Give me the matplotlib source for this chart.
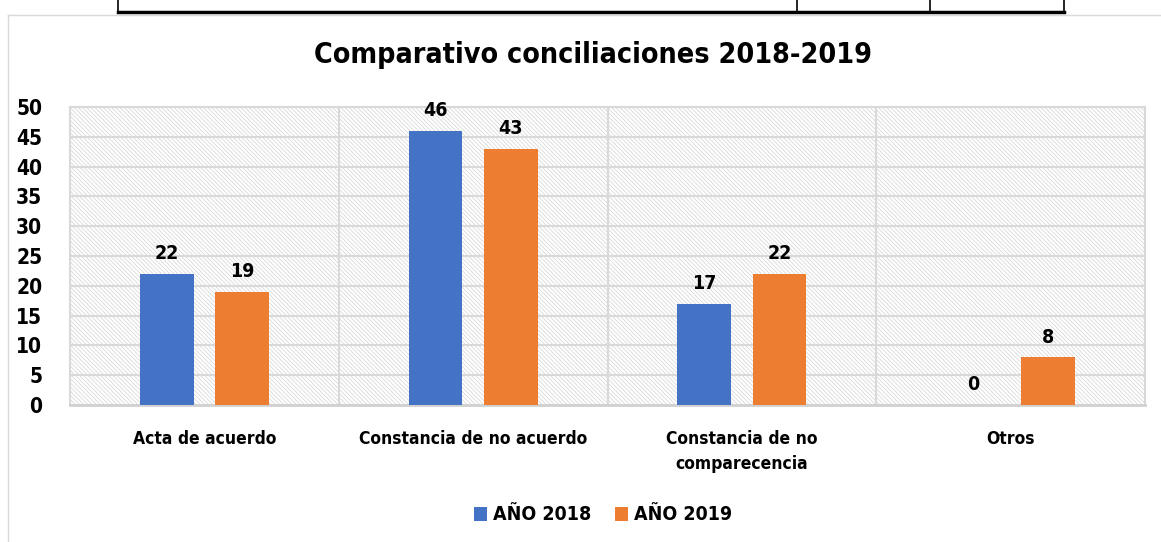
import matplotlib
matplotlib.use("Agg")
from matplotlib import pyplot as plt
from matplotlib.patches import Rectangle
import numpy as np

plt.rcParams['font.family'] = ['DejaVu Sans']
plt.rcParams['font.stretch'] = 'condensed'
plt.rcParams['hatch.linewidth'] = 0.6
plt.rcParams['hatch.color'] = '#d9d9d9'

categories = ["Acta de acuerdo", "Constancia de no acuerdo",
              "Constancia de no\ncomparecencia", "Otros"]
serie_2018 = [22, 46, 17, 0]
serie_2019 = [19, 43, 22, 8]
labels = ["AÑO 2018", "AÑO 2019"]
yticks = [0, 5, 10, 15, 20, 25, 30, 35, 40, 45, 50]

fig = plt.figure(figsize=(11.61, 5.42), dpi=100)

# table edge above and chart border
fig.add_artist(plt.Line2D([118/1161, 1064/1161], [1 - 12/542, 1 - 12/542], color='black', lw=2.5))
for xv in [118, 797, 930, 1064]:
    fig.add_artist(plt.Line2D([xv/1161, xv/1161], [1 - 12/542, 1], color='black', lw=1.2))
fig.add_artist(plt.Line2D([8/1161, 1], [1 - 15/542, 1 - 15/542], color='#d9d9d9', lw=1))
fig.add_artist(plt.Line2D([8/1161, 8/1161], [0, 1 - 15/542], color='#d9d9d9', lw=1))

ax = fig.add_axes([70/1161, 1 - 405/542, (1145 - 70)/1161, (405 - 107)/542])

x = np.arange(len(categories))
w = 0.2
off = 0.14
ax.add_patch(Rectangle((0, 0), 1, 1, transform=ax.transAxes, facecolor='white',
                       hatch='\\\\\\\\\\\\\\\\', edgecolor='#d9d9d9', lw=0, zorder=0))
b1 = ax.bar(x - off, serie_2018, w, color='#4472c4', label=labels[0], zorder=3)
b2 = ax.bar(x + off, serie_2019, w, color='#ed7d31', label=labels[1], zorder=3)
for bars in (b1, b2):
    for r in bars:
        ax.text(r.get_x() + r.get_width()/2, r.get_height() + 1.8, str(int(r.get_height())),
                ha='center', va='bottom', fontsize=14, fontweight='bold', zorder=4)

ax.set_xlim(-0.5, 3.5)
ax.set_ylim(0, 50)
ax.set_yticks(yticks)
ax.set_yticklabels([str(v) for v in yticks], fontsize=15, fontweight='bold')
ax.set_xticks(x)
ax.set_xticklabels(categories, fontsize=12.5, fontweight='bold', linespacing=1.5)
ax.tick_params(length=0, pad=18)
ax.tick_params(axis='y', pad=20)
for v in yticks[1:]:
    ax.axhline(v, color='#d9d9d9', lw=1.5, zorder=1)
for v in [0.5, 1.5, 2.5]:
    ax.axvline(v, color='#d9d9d9', lw=1.5, zorder=1)
for s in ['top', 'right', 'left']:
    ax.spines[s].set_color('#d9d9d9')
    ax.spines[s].set_linewidth(1.5)
ax.spines['bottom'].set_color('#d0d0d0')
ax.spines['bottom'].set_linewidth(2)

fig.text(593/1161, 1 - 55/542, "Comparativo conciliaciones 2018-2019", ha='center', va='center',
         fontsize=20.5, fontweight='bold')
fig.legend(handles=[b1, b2], labels=labels, loc='center', bbox_to_anchor=(603/1161, 1 - 515/542),
           ncol=2, frameon=False, prop={'size': 14, 'weight': 'bold'},
           handlelength=0.7, handleheight=0.7, handletextpad=0.3, columnspacing=1.2)

fig.savefig("out.png", dpi=100)
